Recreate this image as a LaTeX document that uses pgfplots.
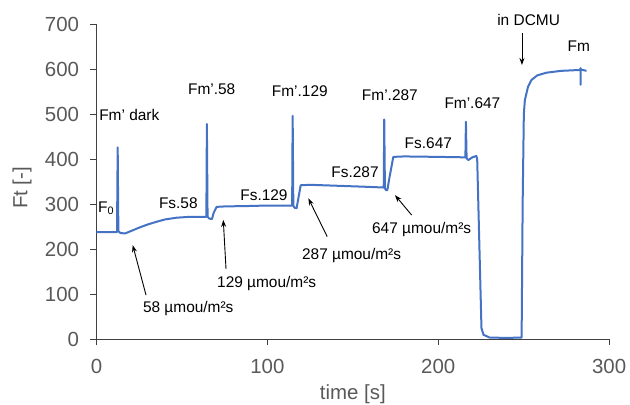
\documentclass[border=0pt]{standalone}
\usepackage{fontspec}
\setmainfont{Liberation Sans}
\usepackage{pgfplots}
\pgfplotsset{compat=1.18}
\usetikzlibrary{arrows.meta}
\definecolor{trace}{HTML}{4472C4}
\definecolor{axgray}{HTML}{595959}
\newcommand{\bigfont}{\fontsize{20.5}{24}\selectfont}
\newcommand{\ann}{\fontsize{15.5}{18}\selectfont}

\begin{document}
\begin{tikzpicture}
\useasboundingbox (-96.5bp,-65.7bp) rectangle (533.5bp,339.3bp);
\begin{axis}[
    at={(0,0)}, anchor=south west,
    scale only axis,
    width=512.6bp, height=315.3bp,
    xmin=0, xmax=300, ymin=0, ymax=700,
    axis lines=left,
    axis line style={-, black!75, line width=0.8bp},
    tick align=outside,
    major tick length=6bp,
    tick style={black!75, line width=0.8bp},
    xtick={0,100,200,300},
    ytick={0,100,...,700},
    /pgf/number format/assume math mode=true,
    ticklabel style={font=\bigfont, text=axgray},
    xticklabel style={yshift=-10bp},
    yticklabel style={xshift=-8bp},
    xlabel={time [s]}, ylabel={Ft [-]},
    label style={font=\bigfont, text=axgray},
    xlabel style={at={(axis description cs:0.5,-0.174)}, anchor=center},
    ylabel style={at={(axis description cs:-0.1453,0.48)}, anchor=center},
    clip=false,
]
% fluorescence trace
\addplot[trace, line width=2bp, line join=round, mark=none] coordinates {
(0,238) (12.0,238) (12.4,426) (12.8,240) (14,236) (16.7,235) (20,240) (25,248)
(30,255) (35.2,261) (40,266) (46.9,270) (55,272) (64.3,272) (64.6,478) (65.0,272)
(66,268) (67.6,267) (68.5,280) (70.3,294) (75,295) (90,296) (100,297) (114.5,297)
(114.8,496) (115.2,296) (116,292) (117.1,291) (118,310) (119.5,342) (125,343)
(140,341) (155,339) (168.1,337) (168.4,488) (168.8,335) (169.5,331) (170.2,331)
(171.5,360) (173.7,405) (180,406) (200,405) (215.9,404) (216.2,483) (216.6,402)
(217.6,398) (220,404) (222.3,407) (222.8,400) (225.3,25) (226.5,10) (230,4)
(240,3) (248.8,4) (249.4,300) (250.1,500) (250.7,531) (252.5,560) (254.6,576)
(258,586) (263.4,592) (272,596) (283,598) (283.3,602) (283.3,565) (283.4,599)
(286.8,596)
};

% labels
\tikzset{lbl/.style={inner sep=0pt, font=\ann, text=black}}
\node[lbl] at (axis cs:19.2,498) {Fm’ dark};
\node[lbl, anchor=west] at (axis cs:0.9,291) {F\textsubscript{0}};
\node[lbl] at (axis cs:47.9,302) {Fs.58};
\node[lbl] at (axis cs:67.4,555) {Fm’.58};
\node[lbl] at (axis cs:98,320) {Fs.129};
\node[lbl] at (axis cs:119,550) {Fm’.129};
\node[lbl] at (axis cs:151.3,372) {Fs.287};
\node[lbl] at (axis cs:171.7,542) {Fm’.287};
\node[lbl] at (axis cs:194.2,435) {Fs.647};
\node[lbl] at (axis cs:220,525) {Fm’.647};
\node[lbl] at (axis cs:252.9,709) {in DCMU};
\node[lbl] at (axis cs:282.3,650) {Fm};
\node[lbl] at (axis cs:53.7,69) {58 µmou/m²s};
\node[lbl] at (axis cs:99.6,124) {129 µmou/m²s};
\node[lbl] at (axis cs:149.3,187) {287 µmou/m²s};
\node[lbl] at (axis cs:190.3,244) {647 µmou/m²s};

% arrows
\draw[-{Stealth[length=7bp,width=5bp]}, line width=0.9bp] (axis cs:29,98) -- (axis cs:21.2,209);
\draw[-{Stealth[length=7bp,width=5bp]}, line width=0.9bp] (axis cs:75.8,156) -- (axis cs:74.2,265);
\draw[-{Stealth[length=7bp,width=5bp]}, line width=0.9bp] (axis cs:135,228) -- (axis cs:124,313);
\draw[-{Stealth[length=7bp,width=5bp]}, line width=0.9bp] (axis cs:184.4,276) -- (axis cs:174.7,320);
\draw[-{Stealth[length=7bp,width=5bp]}, line width=0.9bp] (axis cs:249,680) -- (axis cs:249,609);
\end{axis}
\end{tikzpicture}
\end{document}
